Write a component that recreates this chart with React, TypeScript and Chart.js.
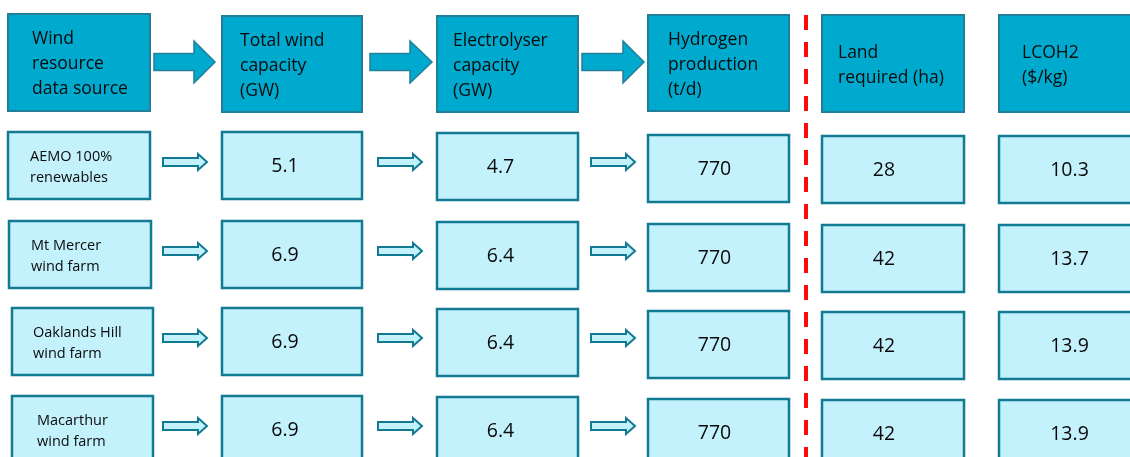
import React, { useEffect, useRef } from "react";
import { Chart, registerables } from "chart.js";

Chart.register(...registerables);

// Column headings of the process flow (one entry per column, lines split by "\n")
const headings = [
  "Wind\nresource\ndata source",
  "Total wind\ncapacity\n(GW)",
  "Electrolyser\ncapacity\n(GW)",
  "Hydrogen\nproduction\n(t/d)",
  "Land\nrequired (ha)",
  "LCOH2\n($/kg)",
];

// One row per wind resource data source
const sources = [
  "AEMO 100%\nrenewables",
  "Mt Mercer\nwind farm",
  "Oaklands Hill\nwind farm",
  "Macarthur\nwind farm",
];
const windCapacityGW = [5.1, 6.9, 6.9, 6.9];
const electrolyserGW = [4.7, 6.4, 6.4, 6.4];
const hydrogenTpd = [770, 770, 770, 770];
const landHa = [28, 42, 42, 42];
const lcohPerKg = [10.3, 13.7, 13.9, 13.9];

const FONT = "'Open Sans', 'DejaVu Sans', sans-serif";
const HEAD_FILL = "#00AACF";
const HEAD_EDGE = "#217F98";
const CELL_FILL = "#C3F2FD";
const CELL_EDGE = "#127A93";
const TEXT = "#0A0A0A";
const DIVIDER = "#FF0A0A";

// Layout of the diagram, in scale units (the scales span the canvas 1:1)
const COL_X: [number, number][] = [
  [8, 150],
  [222, 362],
  [437, 578],
  [648, 789],
  [822, 964],
  [999, 1142],
];
const HEAD_Y: [number, number][] = [
  [14, 111],
  [16, 112],
  [16, 112],
  [15, 111],
  [15, 112],
  [15, 112],
];
const HEAD_PAD = [24, 18, 16, 20, 16, 23];
const ROW_TOP = [132, 221, 308, 396];
const COL_SHIFT = [0, 0, 1, 3, 4, 4];
const VALUE_NUDGE = [0, -7, -7, -4, -9, -1];
const SOURCE_SHIFT = [0, 1, 4, 4];
const SOURCE_PAD = [22, 22, 21, 25];
const CELL_H = 67;
const BIG_ARROWS: [number, number, number][] = [
  [154, 194, 215],
  [370, 410, 432],
  [582, 623, 644],
];
const SMALL_ARROWS: [number, number, number][] = [
  [163, 198, 207],
  [378, 413, 422],
  [591, 626, 635],
];
const DIVIDER_X = 806;

const diagramPlugin = {
  id: "flowDiagram",
  afterDraw(chart: Chart) {
    const ctx = chart.ctx;
    const xs = chart.scales.x;
    const ys = chart.scales.y;
    const X = (v: number) => xs.getPixelForValue(v);
    const Y = (v: number) => ys.getPixelForValue(v);

    const box = (
      x0: number,
      y0: number,
      x1: number,
      y1: number,
      fill: string,
      edge: string,
      lw: number
    ) => {
      const l = X(x0),
        r = X(x1),
        t = Y(y0),
        b = Y(y1);
      ctx.fillStyle = fill;
      ctx.fillRect(l, t, r - l, b - t);
      ctx.strokeStyle = edge;
      ctx.lineWidth = lw;
      ctx.strokeRect(l, t, r - l, b - t);
    };

    const arrow = (
      x0: number,
      xh: number,
      x1: number,
      cy: number,
      shaftHalf: number,
      headHalf: number,
      fill: string,
      edge: string,
      lw: number
    ) => {
      ctx.beginPath();
      ctx.moveTo(X(x0), Y(cy - shaftHalf));
      ctx.lineTo(X(xh), Y(cy - shaftHalf));
      ctx.lineTo(X(xh), Y(cy - headHalf));
      ctx.lineTo(X(x1), Y(cy));
      ctx.lineTo(X(xh), Y(cy + headHalf));
      ctx.lineTo(X(xh), Y(cy + shaftHalf));
      ctx.lineTo(X(x0), Y(cy + shaftHalf));
      ctx.closePath();
      ctx.fillStyle = fill;
      ctx.fill();
      ctx.strokeStyle = edge;
      ctx.lineWidth = lw;
      ctx.lineJoin = "miter";
      ctx.stroke();
    };

    const lines = (
      text: string,
      x: number,
      cy: number,
      lineH: number,
      size: number,
      align: CanvasTextAlign
    ) => {
      const parts = text.split("\n");
      ctx.font = `${size}px ${FONT}`;
      ctx.fillStyle = TEXT;
      ctx.textAlign = align;
      ctx.textBaseline = "middle";
      const start = cy - ((parts.length - 1) * lineH) / 2;
      parts.forEach((p, i) => ctx.fillText(p, X(x), Y(start + i * lineH)));
    };

    ctx.save();

    // Header row
    headings.forEach((h, c) => {
      const [x0, x1] = COL_X[c];
      const [y0, y1] = HEAD_Y[c];
      box(x0, y0, x1, y1, HEAD_FILL, HEAD_EDGE, 2);
      lines(h, x0 + HEAD_PAD[c], (y0 + y1) / 2 + 2, 25, 17.5, "left");
    });
    BIG_ARROWS.forEach(([a, b, c]) =>
      arrow(a, b, c, 62, 8.5, 21, HEAD_FILL, HEAD_EDGE, 1.5)
    );

    // Divider between production and cost columns
    ctx.strokeStyle = DIVIDER;
    ctx.lineWidth = 4;
    ctx.setLineDash([15, 12]);
    ctx.beginPath();
    ctx.moveTo(X(DIVIDER_X), Y(15));
    ctx.lineTo(X(DIVIDER_X), Y(470));
    ctx.stroke();
    ctx.setLineDash([]);

    // Data rows
    const values = [windCapacityGW, electrolyserGW, hydrogenTpd, landHa, lcohPerKg];
    sources.forEach((src, r) => {
      const top = ROW_TOP[r];
      const sx0 = COL_X[0][0] + SOURCE_SHIFT[r];
      const sx1 = COL_X[0][1] + Math.min(SOURCE_SHIFT[r], 3);
      box(sx0, top, sx1, top + CELL_H, CELL_FILL, CELL_EDGE, 2.5);
      lines(src, sx0 + SOURCE_PAD[r], top + CELL_H / 2 + 2, 21, 14.5, "left");

      values.forEach((series, k) => {
        const c = k + 1;
        const [x0, x1] = COL_X[c];
        const t = top + COL_SHIFT[c];
        box(x0, t, x1, t + CELL_H, CELL_FILL, CELL_EDGE, 2.5);
        lines(
          String(series[r]),
          (x0 + x1) / 2 + VALUE_NUDGE[c],
          t + CELL_H / 2 + 1,
          0,
          19.5,
          "center"
        );
      });

      SMALL_ARROWS.forEach(([a, b, c]) =>
        arrow(a, b, c, top + 30, 4, 8, CELL_FILL, CELL_EDGE, 2)
      );
    });

    ctx.restore();
  },
};

export default function App() {
  const canvasRef = useRef<HTMLCanvasElement | null>(null);

  useEffect(() => {
    document.body.style.margin = "0";
    const canvas = canvasRef.current;
    if (!canvas) return;
    const chart = new Chart(canvas, {
      type: "scatter",
      data: { datasets: [] },
      options: {
        animation: false,
        responsive: false,
        maintainAspectRatio: false,
        devicePixelRatio: 1,
        layout: { padding: 0 },
        plugins: {
          legend: { display: false },
          tooltip: { enabled: false },
        },
        scales: {
          x: { type: "linear", min: 0, max: 1130, display: false },
          y: { type: "linear", min: 0, max: 457, reverse: true, display: false },
        },
      },
      plugins: [diagramPlugin],
    });
    return () => chart.destroy();
  }, []);

  return (
    <div style={{ width: 1130, height: 457, background: "#ffffff" }}>
      <canvas ref={canvasRef} width={1130} height={457} style={{ display: "block" }} />
    </div>
  );
}
